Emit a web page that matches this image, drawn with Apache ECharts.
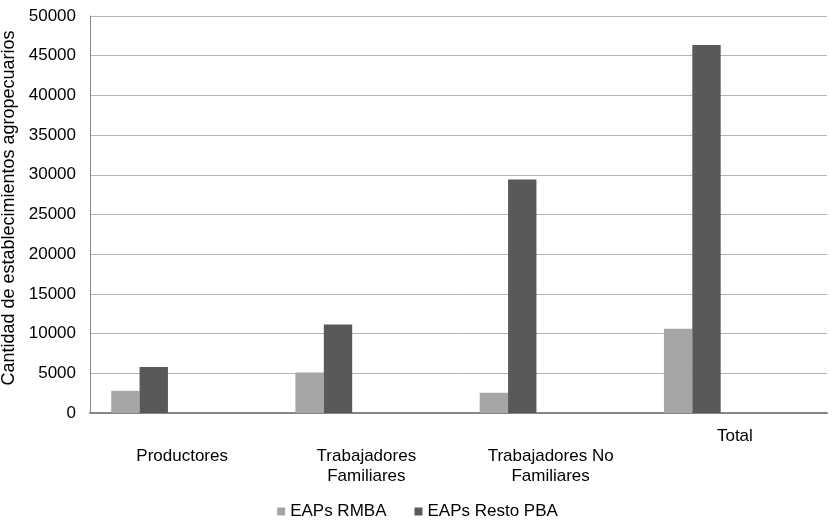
<!DOCTYPE html>
<html><head><meta charset="utf-8">
<script src="https://cdn.jsdelivr.net/npm/echarts@6/dist/echarts.min.js"></script>
<style>html,body{margin:0;padding:0;background:#fff}#c{width:835px;height:530px}</style>
</head><body><div id="c"></div>
<script>
const categories = ['\nProductores', '\nTrabajadores\nFamiliares', '\nTrabajadores No\nFamiliares', 'Total'];
const rmba = [2800, 5100, 2550, 10600];
const restoPBA = [5800, 11150, 29400, 46350];
const yTicks = { min: 0, max: 50000, interval: 5000 };
const seriesNames = ['EAPs RMBA', 'EAPs Resto PBA'];

const chart = echarts.init(document.getElementById('c'));
const font = 'Liberation Sans, Arial, sans-serif';
const empty = ['-', '-', '-', '-'];
chart.setOption({
  animation: false,
  textStyle: { fontFamily: font },
  grid: { left: 90, right: 8, top: 16, bottom: 117, outerBoundsMode: 'none', containLabel: false },
  legend: {
    data: seriesNames, bottom: 5, left: 'center', itemWidth: 8, itemHeight: 8, itemGap: 28,
    icon: 'rect', textStyle: { fontFamily: font, fontSize: 17, color: '#000' }
  },
  xAxis: {
    type: 'category', data: categories,
    axisTick: { show: false },
    axisLine: { lineStyle: { color: '#868686', width: 2 } },
    axisLabel: { color: '#000', fontSize: 17, fontFamily: font, lineHeight: 20, margin: 13, interval: 0 }
  },
  yAxis: {
    type: 'value', min: yTicks.min, max: yTicks.max, interval: yTicks.interval,
    name: 'Cantidad de establecimientos agropecuarios', nameLocation: 'middle', nameGap: 67,
    nameTextStyle: { color: '#000', fontSize: 18, fontFamily: font, padding: [0, 0, 0, 13] },
    axisLine: { show: true, lineStyle: { color: '#868686', width: 1 } },
    axisTick: { show: false },
    axisLabel: { color: '#000', fontSize: 17, fontFamily: font, margin: 14, formatter: v => String(v) },
    splitLine: { lineStyle: { color: '#b3b3b3', width: 1 } }
  },
  series: [
    { name: seriesNames[0], type: 'bar', data: rmba, itemStyle: { color: '#a6a6a6' }, barGap: '0%', barCategoryGap: '23%' },
    { name: seriesNames[1], type: 'bar', data: restoPBA, itemStyle: { color: '#595959' } },
    { name: 's3', type: 'bar', data: empty },
    { name: 's4', type: 'bar', data: empty },
    { name: 's5', type: 'bar', data: empty }
  ]
});
</script></body></html>
